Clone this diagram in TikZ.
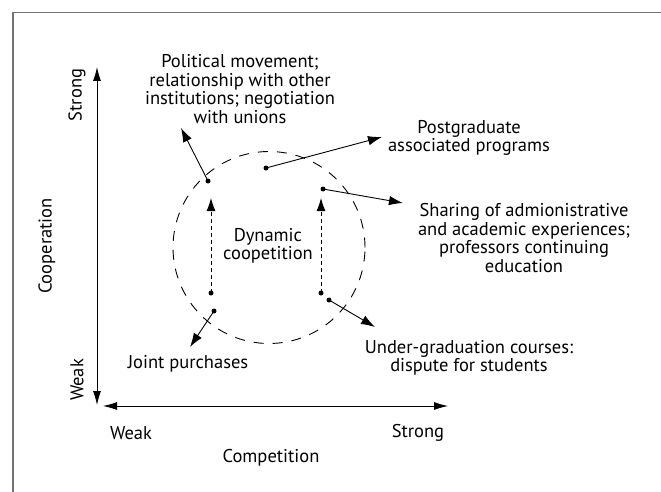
\documentclass[tikz,border=0pt]{standalone}
\usepackage{fontspec}
\setmainfont{PT Sans}
\usetikzlibrary{arrows.meta}
\begin{document}
\begin{tikzpicture}[x=1pt,y=-1pt,
  lbl/.style={font=\fontsize{18.5}{18.5}\selectfont,align=center,inner sep=0pt},
  axis/.style={line width=0.9pt,{Latex[length=14pt,width=8pt]}-{Latex[length=14pt,width=8pt]}},
  ptr/.style={line width=0.9pt,-{Latex[length=14pt,width=9.5pt]}},
  dptr/.style={line width=0.9pt,dash pattern=on 4pt off 3pt,-{Latex[length=13pt,width=9pt]}},
  dotc/.style={circle,fill=black,inner sep=0pt,minimum size=5pt},
  frame/.style={draw=black!55,line width=1.4pt}]
\useasboundingbox (0,0) rectangle (661,492);
\draw[frame] (13,493) -- (13,12.5) -- (662,12.5);
% axes
\coordinate (vtop) at (97,67);
\coordinate (vbot) at (97,405);
\coordinate (hleft) at (103,406);
\coordinate (hright) at (448,406);
\draw[axis] (vbot) -- (vtop);
\draw[axis] (hleft) -- (hright);
\node[lbl,rotate=90] (cs) at (77,95) {Strong};
\node[lbl,rotate=90] (cc) at (47,246) {Cooperation};
\node[lbl,rotate=90] (cw) at (77,380) {Weak};
\node[lbl] (hw) at (131,433) {Weak};
\node[lbl] (hs) at (418,433) {Strong};
\node[lbl] (hc) at (271,458) {Competition};
% circle
\node[draw,circle,minimum size=192pt,line width=0.9pt,dash pattern=on 10pt off 9pt] (circ) at (269,247.5) {};
\node[lbl] (dyn) at (268,246) {Dynamic\\coopetition};
% dots
\node[dotc] (d1) at (208,181) {};
\node[dotc] (d2) at (266,168) {};
\node[dotc] (d3) at (323,189) {};
\node[dotc] (d4) at (211,293) {};
\node[dotc] (d5) at (321,293) {};
\node[dotc] (d6) at (214,311) {};
\node[dotc] (d7) at (329,300) {};
% tips
\coordinate (t1) at (181,128);
\coordinate (t2) at (382,137);
\coordinate (t3) at (403,203);
\coordinate (t4) at (211,198);
\coordinate (t5) at (321,198);
\coordinate (t6) at (190,347);
\coordinate (t7) at (375,327);
\draw[ptr] (d1.center) -- (t1);
\draw[ptr] (d2.center) -- (t2);
\draw[ptr] (d3.center) -- (t3);
\draw[dptr] (d4.center) -- (t4);
\draw[dptr] (d5.center) -- (t5);
\draw[ptr] (d6.center) -- (t6);
\draw[ptr] (d7.center) -- (t7);
% labels
\node[lbl] (pol) at (240,89) {Political movement;\\relationship with other\\institutions; negotiation\\with unions};
\node[lbl] (post) at (469,138) {Postgraduate\\associated programs};
\node[lbl] (shar) at (524,238) {Sharing of admionistrative\\and academic experiences;\\professors continuing\\education};
\node[lbl] (und) at (469,358) {Under-graduation courses:\\dispute for students};
\node[lbl] (joint) at (188,364) {Joint purchases};
\end{tikzpicture}
\end{document}
